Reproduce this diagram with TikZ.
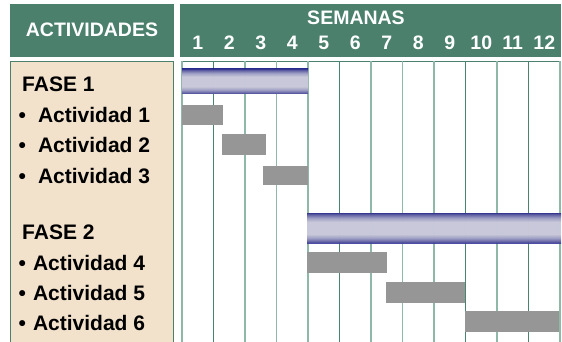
\documentclass[tikz,border=0pt]{standalone}
\usepackage{fontspec}
\setmainfont{Liberation Sans}
\definecolor{verde}{HTML}{4A806C}
\definecolor{beige}{HTML}{F2E2CC}
\definecolor{lineaclara}{HTML}{8FB8A9}
\definecolor{lineaoscura}{HTML}{4A846E}
\definecolor{gris}{HTML}{969696}
\definecolor{azul}{HTML}{3A3A9C}
\definecolor{lila}{HTML}{DCDCEF}
\pgfdeclareverticalshading{faseshade}{100bp}{color(0bp)=(azul); color(25bp)=(azul); color(27bp)=(azul!75!lila); color(33bp)=(azul!30!lila); color(40bp)=(lila); color(60bp)=(lila); color(67bp)=(azul!30!lila); color(73bp)=(azul!75!lila); color(75bp)=(azul); color(100bp)=(azul)}
\tikzset{
  cabecera/.style={fill=verde},
  titulo/.style={text=white, anchor=base, inner sep=0pt, font=\bfseries\fontsize{19.5}{22}\selectfont},
  fila/.style={anchor=base west, inner sep=0pt, font=\bfseries\fontsize{21}{24}\selectfont},
  tarea/.style={fill=gris},
  fasebar/.style={shading=faseshade, opacity=0.9},
}
\begin{document}
\begin{tikzpicture}[x=1pt,y=-1pt]
			\useasboundingbox (0,0) rectangle (562,342);
			% cabeceras
			\fill[cabecera] (10,4) rectangle (174,57.5);
			\fill[cabecera] (180,4) rectangle (560.5,57.5);
			\node[titulo] (actividades) at (92,37) {ACTIVIDADES};
			\node[titulo] (semanas) at (356,25) {SEMANAS};
			\foreach \k in {1,...,12}
			{	\node[titulo] (s\k) at (182+31.5*\k-15.75,49.5) {\k};
			}
			%
			% panel de actividades
			\fill[beige] (10,61.5) rectangle (173,342);
			\draw[verde, line width=0.8pt] (10,342) -- (10,61.5) -- (173,61.5) -- (173,342);
			\node[fila] (fase1) at (22,92) {FASE 1};
			\node[fila] (fase2) at (22,239) {FASE 2};
			\def\filas {1/123/12, 2/153/12, 3/183/12, 4/270/7, 5/300/7, 6/330/7}  % actividad/linea base/espacio
			\foreach \n/\y/\sep in \filas
			{	\node[fila] (act\n) at (18.5,\y) {\textbullet\hspace{\sep pt}Actividad \n};
			}
			%
			% rejilla de semanas
			\fill[white] (182,61.5) rectangle (560,342);
			\draw[verde, line width=0.8pt] (182,61.5) -- (560,61.5);
			\def\lineas {0/lineaclara, 1/lineaoscura, 2/lineaclara, 3/lineaclara, 4/lineaclara, 5/lineaoscura, 6/lineaclara, 7/lineaclara, 8/lineaclara, 9/lineaoscura, 10/lineaclara, 11/lineaoscura, 12/lineaclara}
			\foreach \k/\c in \lineas
			{	\draw[\c, line width=1.8pt] (182+31.5*\k,61.5) -- (182+31.5*\k,342);
			}
			%
			% barras
			\fill[fasebar] (182,69) rectangle (308,94);
			\fill[fasebar] (307,213) rectangle (561,243);
			\def\tareas {182/223/105/125, 222/266/134/155, 263/308/166/185, 307/387/252/273, 386/465/282/303, 465/559/311/332}  % x0/x1/y0/y1
			\foreach \a/\b/\c/\d in \tareas
			{	\fill[tarea] (\a,\c) rectangle (\b,\d);
			}
\end{tikzpicture}
\end{document}
